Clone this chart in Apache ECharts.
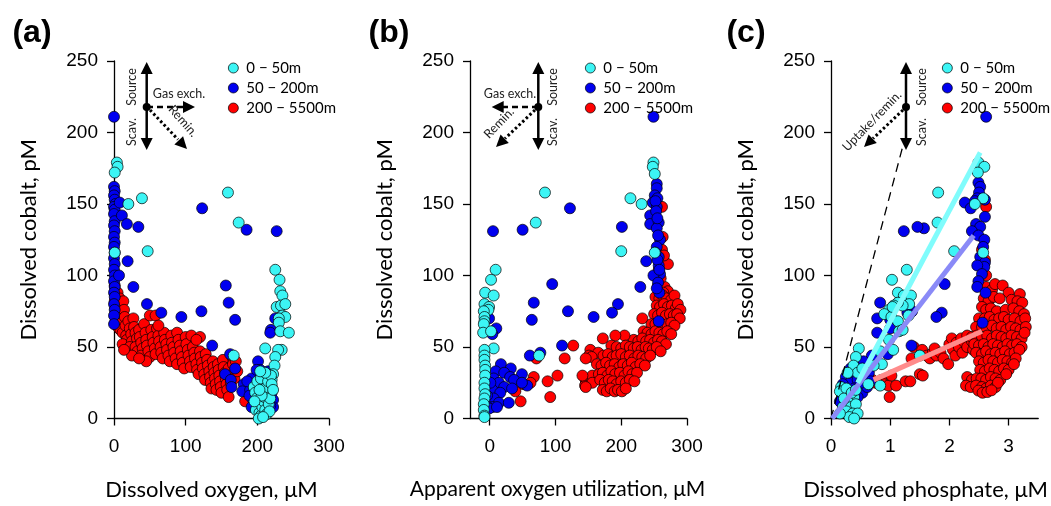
<!DOCTYPE html>
<html><head><meta charset="utf-8">
<script src="https://cdn.jsdelivr.net/npm/echarts@6/dist/echarts.min.js"></script>
<style>html,body{margin:0;padding:0;background:#fff}#c{width:1051px;height:506px}</style>
</head><body><div id="c"></div>
<script>
// ---------- names, ticks ----------
const depthNames = ['0 − 50m', '50 − 200m', '200 − 5500m'];
const yTicks = [0, 50, 100, 150, 200, 250];
const xTicksO2 = [0, 100, 200, 300];
const xTicksAOU = [0, 100, 200, 300];
const xTicksPO4 = [0, 1, 2, 3];

// ---------- (a) cobalt vs dissolved oxygen ----------
const oxyCyan = [[4,179],[5,176],[1,172],[1,116],[20,150],[39,154],[47,117],[159,158],[174,137],[167,44],
 [225,104],[231,97],[232,89],[235,86],[227,78],[233,79],[239,80],[235,72],[239,71],[230,70],[230,67],[232,61],[244,60],[234,48],[229,48],[225,43],[224,37],[222,31],[220,27],[211,49],
 [195,22],[197,18],[199,14],[201,10],[198,6],[203,4],[205,2],[202,0],[207,8],[209,12],[211,6],[213,3],[210,15],[214,18],[216,10],[212,22],[218,14],[206,16],[200,26],[205,28],[215,26],[219,30],[217,5],[208,1],[196,12],[203,20],[220,24],[222,20],[211,32],[204,33]];
const oxyBlue = [[0,211],[0,162],[1,159],[0,156],[1,153],[2,150],[0,148],[1,146],[0,143],[1,138],[0,135],[1,131],[0,127],[1,123],[0,120],[1,116],[0,112],[1,108],[0,104],[1,100],[0,96],[1,92],[0,88],[1,85],[0,80],[1,76],[0,72],[0,66],
 [8,151],[11,142],[18,136],[34,134],[19,110],[7,100],[27,92],[46,80],[66,74],[94,71],[122,75],[123,147],[137,51],[156,93],[160,81],[169,69],[185,132],[227,131],[225,70],[219,62],[218,60],
 [162,45],[169,35],[155,31],[163,27],[164,22],[181,24],[179,19],[192,28],[201,40],[204,34],[199,34],[215,33],[213,28],[220,22],[194,13],[192,8],[190,20],[220,18],[222,13],[189,16],[222,8],[218,9],[186,26]];
const oxyRed = [[1,93],[2,89],[3,85],[1,82],[4,80],[2,77],[5,75],[3,72],[6,70],[2,68],[4,65],[7,63],[5,88],[8,84],[9,78],[10,74],[8,70],[11,67],[9,62],[12,60],[13,82],[14,76],[15,71],[16,65],[17,58],[18,55],[12,52],[20,68],[22,63],[24,59],[25,54],[22,50],[27,70],[28,64],[30,60],[32,56],[30,50],[33,47],[35,62],[36,57],[38,53],[40,49],[38,44],[42,66],[44,60],[45,55],[46,51],[48,47],[50,43],[50,72],[52,62],[54,57],[55,53],[57,49],[58,45],[60,63],[62,58],[63,54],[65,50],[66,46],[68,42],[70,60],[71,55],[73,52],[74,48],[76,44],[78,40],[80,58],[81,53],[83,50],[84,46],[86,42],[88,38],[88,60],[90,55],[92,51],[93,47],[95,43],[96,39],[98,35],[100,57],[101,52],[103,48],[104,44],[106,40],[107,36],[108,58],[110,50],[112,46],[113,42],[115,38],[116,34],[118,31],[120,47],[121,43],[123,39],[124,35],[126,31],[127,27],[128,45],[130,41],[131,37],[133,33],[134,29],[135,25],[136,21],[138,40],[139,36],[140,32],[141,28],[142,24],[143,20],[145,38],[146,34],[147,30],[148,26],[149,22],[150,18],[152,41],[153,36],[155,32],[156,28],[157,24],[158,20],[160,35],[162,30],[163,25],[165,43],[166,38],[168,28],[170,40],[172,33],[160,15],[183,12],[120,57],[115,55],[58,72],[62,65],[45,40],[25,44],[14,48],[35,42]];

// ---------- (b) cobalt vs apparent oxygen utilization ----------
const aouCyan = [[84,158],[70,137],[214,154],[231,150],[200,117],[251,116],[249,179],[248,176],[251,171],[9,104],[2,97],[-7,88],[6,86],[-8,80],[-1,78],[-2,76],[-9,75],[-8,71],[-8,68],[-9,66],[-10,60],[2,61],[6,49],[75,44],
 [-8,48],[-8,44],[-8,41],[-7,37],[-7,34],[-7,30],[-8,25],[-8,21],[-7,17],[-8,14],[-9,10],[-9,6],[-8,2],[-8,1]];
const aouBlue = [[249,211],[254,164],[254,161],[251,156],[255,154],[248,151],[254,148],[244,142],[244,136],[257,137],[254,133],[259,125],[254,120],[257,113],[257,107],[259,101],[238,110],[249,100],[229,92],[201,134],[195,80],[186,74],[158,71],[119,75],[95,94],[258,88],[257,68],[122,147],[5,131],[50,132],[67,81],[64,69],[110,51],[61,44],[77,46],[10,63],[-1,70],[4,59],
 [252,152],[253,145],[255,140],[256,128],[252,116],[255,111],[258,104],[256,95],[254,91],
 [17,38],[32,35],[49,31],[9,33],[22,32],[31,29],[37,27],[6,28],[14,25],[22,22],[34,21],[4,20],[16,18],[6,14],[14,11],[4,8],[29,11],[57,23],[49,25],[1,25],[-4,16],[-5,9],[-1,7],[11,8]];
const aouRed = [[47,12],[92,15],[88,26],[103,30],[67,29],[62,25],[51,24],[39,19],[127,51],[114,42],[71,42],
 [262,148],[263,127],[262,118],[271,108],[265,114],[146,27],[146,24],[145,23],[172,56],[153,48],[151,44],[232,70],
 [256,93],[261,91],[266,92],[271,89],[264,88],
 [252,85],[258,84],[263,86],[269,84],[276,83],[281,86],
 [254,79],[259,78],[265,80],[271,78],[277,79],[283,77],[286,80],[290,76],
 [250,73],[256,72],[262,74],[268,72],[274,73],[280,72],[285,73],[289,70],
 [246,66],[252,66],[258,67],[264,65],[270,66],[276,67],[281,65],
 [234,61],[240,60],[246,59],[252,61],[258,60],[264,59],[270,61],[276,59],
 [219,55],[226,54],[232,56],[238,54],[244,55],[250,53],[256,55],[262,54],[268,52],[205,58],[191,58],
 [185,51],[193,50],[200,49],[207,51],[213,50],[219,49],[225,50],[231,48],[237,50],[242,49],[248,48],[254,50],[260,47],
 [165,46],[173,44],[180,45],[187,43],[193,44],[200,45],[207,43],[213,44],[220,42],[226,44],[232,43],[238,42],[244,44],[155,43],[146,42],
 [163,38],[170,37],[177,39],[183,37],[190,38],[197,36],[203,38],[210,37],[216,39],[222,36],[229,38],[236,37],
 [156,30],[166,31],[172,32],[179,30],[185,33],[191,31],[198,32],[205,30],[211,33],[217,31],[224,32],
 [156,25],[168,27],[175,25],[181,27],[187,26],[193,24],[200,26],[207,25],[213,27],[220,26],
 [172,20],[178,19],[184,21],[190,19],[195,20],[201,19],[207,21],[146,22],[141,30],[260,98],[257,104]];

// ---------- (c) cobalt vs dissolved phosphate ----------
const po4Cyan = [[2.49,179],[2.59,176],[2.48,172],[2.57,154],[2.43,150],[1.81,158],[1.80,137],[2.08,117],[2.57,116],[1.50,44],
 [1.28,104],[1.03,97],[1.13,88],[1.23,86],[1.35,86],[1.32,80],[1.21,79],[1.13,81],[1.06,79],[0.98,76],[0.90,73],[1.02,71],[1.04,78],[1.31,72],[1.13,68],[1.15,61],[1.21,62],[0.98,55],[1.05,48],[0.83,47],[0.86,38],[0.72,37],[0.47,49],[0.42,43],[0.38,37],[0.45,32],[0.53,35],[0.63,24],[0.83,23],[0.28,32],
 [0.17,22],[0.15,19],[0.26,21],[0.31,15],[0.39,15],[0.28,12],[0.20,8],[0.34,8],[0.42,10],[0.26,5],[0.37,3.5],[0.45,3.5],[0.31,1],[0.39,0],[0.15,3.5],[0.22,14],[0.35,18],[0.42,20]];
const po4Blue = [[2.62,211],[2.49,165],[2.52,162],[2.50,158],[2.47,154],[2.43,152],[2.26,151],[2.36,147],[2.60,153],[2.60,141],[2.45,136],[2.52,134],[2.38,131],[2.49,128],[2.59,125],[2.57,120],[2.52,113],[2.60,109],[2.59,106],[2.47,107],[2.55,101],[2.49,96],[2.47,92],[2.61,88],[2.56,67],[1.92,94],[1.87,74],[1.78,71],[1.57,133],[1.46,134],[1.23,131],[0.83,81],[0.78,70],[1.0,69],[0.78,60],[1.0,63],[1.37,75],[1.29,74],[1.36,51],[0.69,44],[0.96,45],
 [0.33,35],[0.42,34],[0.51,39],[0.58,35],[0.25,29],[0.34,26],[0.45,27],[0.56,29],[0.64,32],[0.67,26],[0.20,24],[0.28,20],[0.39,21],[0.53,18],[0.61,22],[0.20,15],[0.15,12],[0.45,15],[0.5,25],[0.3,32],[0.55,40]];
const po4Red = [[0.70,27],[0.75,25],[0.85,27],[0.90,24],[0.97,23],[0.99,15],[1.02,30],[1.10,23],[1.26,26],[1.34,26],[1.36,42],[1.40,50],[1.50,31],[1.54,48],[1.55,30],[1.62,44],[1.67,42],[1.72,46],[1.75,49],[1.78,44],[1.85,46],[1.90,42],[1.98,38],[2.00,52],[2.04,56],[2.06,48],[2.10,44],[2.12,53],[2.16,50],[2.20,56],[2.22,46],[2.26,53],[2.30,50],[2.34,57],[2.38,54],[2.40,48],
 [2.62,92],[2.72,90],[2.77,94],[2.90,93],[3.00,88],[3.19,87],
 [2.58,84],[2.66,82],[2.75,85],[2.85,84],[3.05,83],[3.15,82],[3.23,81],
 [2.55,78],[2.62,76],[2.70,77],[2.80,75],[2.95,76],[3.08,77],[3.18,75],[3.26,73],
 [2.50,70],[2.60,70],[2.68,71],[2.76,69],[2.84,70],[2.92,71],[3.00,69],[3.10,70],[3.20,68],[3.28,70],
 [2.45,64],[2.55,64],[2.63,63],[2.72,65],[2.80,63],[2.88,64],[2.96,62],[3.04,64],[3.12,63],[3.20,62],[3.29,64],
 [2.30,58],[2.38,57],[2.46,58],[2.55,57],[2.64,58],[2.72,56],[2.80,58],[2.88,57],[2.96,56],[3.05,58],[3.14,57],[3.22,56],[3.27,60],
 [2.42,52],[2.50,51],[2.58,52],[2.66,50],[2.74,52],[2.82,51],[2.90,50],[2.98,52],[3.06,51],[3.14,52],[3.22,50],
 [2.45,46],[2.55,45],[2.62,47],[2.70,45],[2.78,46],[2.86,45],[2.94,47],[3.02,45],[3.10,46],[3.18,48],
 [2.50,40],[2.58,39],[2.66,41],[2.74,40],[2.82,39],[2.90,41],[2.98,40],[3.06,39],[3.12,42],
 [2.52,34],[2.60,33],[2.68,35],[2.76,34],[2.84,33],[2.92,35],[3.00,34],[3.09,38],
 [2.30,29],[2.38,27],[2.46,28],[2.54,28],[2.62,27],[2.70,29],[2.78,28],[2.86,27],[2.96,31],
 [2.28,23],[2.36,22],[2.45,23],[2.55,22],[2.62,21],[2.70,23],[2.78,22],[2.82,25],
 [2.49,19.5],[2.56,18],[2.64,18.5],[2.71,19.7],
 [2.55,118],[2.60,111],[2.62,148],[2.62,100]];
// regression / reference lines in (c)
const fitCyan = [[0.45,25],[2.52,186]];
const fitBlue = [[0.02,0],[2.41,128]];
const fitRed = [[0.72,27],[2.55,61]];
const fitDash = [[0,0],[1.21,190]];

// ---------- styling ----------
const fillColors = ['#3cf5f5', '#0000f0', '#ff0000'];
const GRID_TOP = 61, GRID_H = 357.5;
const grids = [
  {left: 114, top: GRID_TOP, width: 215, height: GRID_H},
  {left: 470, top: GRID_TOP, width: 217, height: GRID_H},
  {left: 831, top: GRID_TOP, width: 214, height: GRID_H}
];
const tickFont = {fontFamily: 'Liberation Sans', fontSize: 19, color: '#000'};
const titleFont = 'Lato';

function xAx(i, min, max, ticks, name, shift, size) {
  return {
    type: 'value', gridIndex: i, min: min, max: max,
    name: name, nameLocation: 'middle', nameGap: 60,
    nameTextStyle: {fontFamily: titleFont, fontSize: size, color: '#000', padding: [0, 2 * shift, 0, 0]},
    axisLine: {show: true, onZero: false, lineStyle: {color: '#000', width: 1.3}},
    axisTick: {show: true, length: 7, customValues: ticks, lineStyle: {color: '#000', width: 1.3}},
    axisLabel: Object.assign({margin: 19, customValues: ticks}, tickFont),
    splitLine: {show: false}
  };
}
function yAx(i) {
  return {
    type: 'value', gridIndex: i, min: 0, max: 250,
    name: 'Dissolved cobalt, pM', nameLocation: 'middle', nameGap: 74,
    nameTextStyle: {fontFamily: titleFont, fontSize: 22, color: '#000'},
    axisLine: {show: true, onZero: false, lineStyle: {color: '#000', width: 1.3}},
    axisTick: {show: true, length: 7, customValues: yTicks, lineStyle: {color: '#000', width: 1.3}},
    axisLabel: Object.assign({margin: 16, customValues: yTicks}, tickFont),
    splitLine: {show: false}
  };
}
function sc(i, k, data) {
  return {
    type: 'scatter', name: depthNames[k], xAxisIndex: i, yAxisIndex: i, data: data,
    symbol: 'circle', symbolSize: 11,
    itemStyle: {color: fillColors[k], borderColor: '#000', borderWidth: 0.7, opacity: 1},
    emphasis: {disabled: true}
  };
}
function ln(data, color, width, dash) {
  return {
    type: 'line', xAxisIndex: 2, yAxisIndex: 2, data: data, symbol: 'none', silent: true,
    lineStyle: {color: color, width: width, type: dash ? [9, 6] : 'solid', cap: 'butt'},
    emphasis: {disabled: true}
  };
}
function legendAt(left) {
  return {
    data: depthNames, orient: 'vertical', left: left, top: 53, itemGap: 0,
    itemWidth: 10, itemHeight: 10, icon: 'circle',
    itemStyle: {borderColor: '#000', borderWidth: 0.7},
    textStyle: {fontFamily: titleFont, fontSize: 15, color: '#000', lineHeight: 20, padding: [0, 0, 0, 3]},
    selectedMode: false
  };
}

// ---------- inset arrow diagrams (decoration) ----------
function head(tx, ty, dx, dy) {
  const n = Math.hypot(dx, dy); dx /= n; dy /= n;
  const L = 12, H = 6, bx = tx - L * dx, by = ty - L * dy;
  return {type: 'polygon', shape: {points: [[tx, ty], [bx - H * dy, by + H * dx], [bx + H * dy, by - H * dx]]}, style: {fill: '#000'}, silent: true};
}
function seg(x1, y1, x2, y2, dash, w) {
  return {type: 'line', shape: {x1: x1, y1: y1, x2: x2, y2: y2}, style: {stroke: '#000', lineWidth: w || 2.5, lineDash: dash || null}, silent: true};
}
function txt(x, y, s, rot, size) {
  return {type: 'text', x: x, y: y, rotation: rot || 0, silent: true,
    style: {text: s, fill: '#222', font: (size || 12.5) + 'px Lato', align: 'center', verticalAlign: 'middle'}};
}
function sourceScav(cx, cy) {
  return [seg(cx, 72, cx, 140), head(cx, 62, 0, -1), head(cx, 150, 0, 1),
    {type: 'circle', shape: {cx: cx, cy: cy, r: 4}, style: {fill: '#000'}, silent: true}];
}
const graphics = [].concat(
  [txt(32, 33, '(a)', 0, 32), txt(389, 33, '(b)', 0, 32), txt(746, 33, '(c)', 0, 32)].map(function (t) { t.style.font = 'bold 32px "Liberation Sans"'; t.style.fill = '#000'; return t; }),
  // (a)
  sourceScav(146.7, 107),
  [seg(147, 107, 183, 107, [6, 4]), head(195, 107, 1, 0),
   seg(150, 110, 178, 139.5, [2.5, 2.5], 3), head(187, 149, 40, 42),
   txt(132, 87, 'Source', Math.PI / 2), txt(132, 132, 'Scav.', Math.PI / 2),
   txt(179, 94, 'Gas exch.'), txt(183, 121, 'Remin.', -0.85)],
  // (b)
  sourceScav(538.3, 107),
  [seg(538, 107, 503, 107, [6, 4]), head(491.7, 107, -1, 0),
   seg(535, 110, 505, 138.5, [2.5, 2.5], 3), head(496, 147, -42, 40),
   txt(553, 87, 'Source', Math.PI / 2), txt(553, 132, 'Scav.', Math.PI / 2),
   txt(510, 94, 'Gas exch.'), txt(499, 123, 'Remin.', 0.8)],
  // (c)
  sourceScav(906, 107),
  [seg(903, 110, 873, 138.5, [2.5, 2.5], 3), head(864, 147, -42, 40),
   txt(922, 87, 'Source', Math.PI / 2), txt(922, 132, 'Scav.', Math.PI / 2),
   txt(872, 121, 'Uptake/remin.', 0.8)]
);

const chart = echarts.init(document.getElementById('c'), null, {renderer: 'canvas'});
chart.setOption({
  animation: false,
  backgroundColor: '#fff',
  grid: grids,
  xAxis: [
    xAx(0, 0, 300, xTicksO2, 'Dissolved oxygen, μM', 10, 22),
    xAx(1, -30, 300, xTicksAOU, 'Apparent oxygen utilization, μM', 21, 21),
    xAx(2, 0, 3.5, xTicksPO4, 'Dissolved phosphate, μM', 9, 22)
  ],
  yAxis: [yAx(0), yAx(1), yAx(2)],
  legend: [legendAt(223), legendAt(580), legendAt(937)],
  series: [
    ln(fitDash, '#000', 1.3, true),
    ln(fitRed, '#ff8c8c', 5),
    ln(fitBlue, '#8a8af7', 5),
    ln(fitCyan, '#80fcfc', 5),
    sc(0, 2, oxyRed), sc(0, 1, oxyBlue), sc(0, 0, oxyCyan),
    sc(1, 2, aouRed), sc(1, 1, aouBlue), sc(1, 0, aouCyan),
    sc(2, 2, po4Red), sc(2, 1, po4Blue), sc(2, 0, po4Cyan)
  ],
  graphic: graphics
});
</script></body></html>
